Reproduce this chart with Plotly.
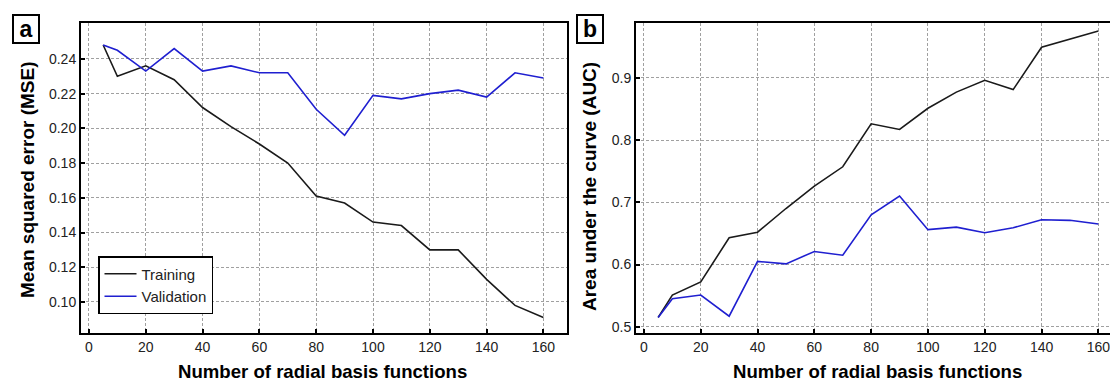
import plotly.graph_objects as go

n_rbf = [5, 10, 20, 30, 40, 50, 60, 70, 80, 90, 100, 110, 120, 130, 140, 150, 160]
mse_train = [0.248, 0.230, 0.236, 0.228, 0.212, 0.201, 0.191, 0.180, 0.161, 0.157, 0.146, 0.144, 0.130, 0.130, 0.113, 0.098, 0.091]
mse_valid = [0.248, 0.245, 0.233, 0.246, 0.233, 0.236, 0.232, 0.232, 0.211, 0.196, 0.219, 0.217, 0.220, 0.222, 0.218, 0.232, 0.229]
auc_train = [0.515, 0.551, 0.572, 0.643, 0.652, 0.690, 0.726, 0.757, 0.826, 0.817, 0.851, 0.877, 0.896, 0.881, 0.949, 0.962, 0.975]
auc_valid = [0.515, 0.545, 0.551, 0.517, 0.605, 0.601, 0.621, 0.615, 0.680, 0.710, 0.656, 0.660, 0.651, 0.659, 0.672, 0.671, 0.665]

x_ticks = [0, 20, 40, 60, 80, 100, 120, 140, 160]
mse_ticks = [0.10, 0.12, 0.14, 0.16, 0.18, 0.20, 0.22, 0.24]
auc_ticks = [0.5, 0.6, 0.7, 0.8, 0.9]

W, H = 1110, 381
FONT = "Liberation Sans, Arial, sans-serif"
BLACK = "#1a1a1a"
BLUE = "#1f1fd0"

fig = go.Figure()
fig.add_trace(go.Scatter(x=n_rbf, y=mse_train, mode="lines", name="Training",
                         line=dict(color=BLACK, width=1.6), xaxis="x", yaxis="y"))
fig.add_trace(go.Scatter(x=n_rbf, y=mse_valid, mode="lines", name="Validation",
                         line=dict(color=BLUE, width=1.6), xaxis="x", yaxis="y"))
fig.add_trace(go.Scatter(x=n_rbf, y=auc_train, mode="lines", name="Training",
                         line=dict(color=BLACK, width=1.6), xaxis="x2", yaxis="y2", showlegend=False))
fig.add_trace(go.Scatter(x=n_rbf, y=auc_valid, mode="lines", name="Validation",
                         line=dict(color=BLUE, width=1.6), xaxis="x2", yaxis="y2", showlegend=False))

top, bottom = 23, 333
ph = bottom - top

axis_common = dict(showgrid=True, gridcolor="#a0a0a0", griddash="3px,2px", gridwidth=1,
                   showline=True, linecolor="black", linewidth=2,
                   ticks="inside", ticklen=4, tickwidth=2, tickcolor="black",
                   tickfont=dict(family=FONT, size=14, color="#222"), zeroline=False)

fig.update_layout(
    width=W, height=H,
    margin=dict(l=0, r=0, t=top, b=H - bottom),
    paper_bgcolor="white", plot_bgcolor="white",
    font=dict(family=FONT, color="#222"),
    xaxis=dict(domain=[81 / W, 567 / W], range=[-2.8, 168.3], tickvals=x_ticks,
               mirror=True, anchor="y", **axis_common),
    yaxis=dict(domain=[0, 1], range=[0.0821, 0.2607], tickvals=mse_ticks,
               tickformat=".2f", mirror=True, anchor="x", **axis_common),
    xaxis2=dict(domain=[636 / W, 1.0], range=[-2.8, 164.1], tickvals=x_ticks,
                mirror=True, anchor="y2", ticklabeloverflow="allow", **axis_common),
    yaxis2=dict(domain=[0, 1], range=[0.49, 0.988], tickvals=auc_ticks,
                tickformat=".1f", mirror=False, anchor="x2", **axis_common),
    showlegend=True,
    legend=dict(x=98 / W, y=(bottom - 256) / ph, xanchor="left", yanchor="top",
                bordercolor="black", borderwidth=1.5, bgcolor="white",
                font=dict(family=FONT, size=15, color="#222"),
                tracegroupgap=2, itemwidth=32),
)

def px_x(p):
    return p / W

def px_y(p):
    return (bottom - p) / ph

annos = [
    dict(text="<b>a</b>", x=px_x(25.5), y=px_y(29)),
    dict(text="<b>b</b>", x=px_x(590), y=px_y(29)),
]
for a in annos:
    fig.add_annotation(xref="paper", yref="paper", x=a["x"], y=a["y"], text=a["text"],
                       showarrow=False, font=dict(family=FONT, size=23, color="black"),
                       bordercolor="black", borderwidth=2, borderpad=1, bgcolor="white",
                       xanchor="center", yanchor="middle", width=22, height=24)

XT = 18.6
YT = 19
for cx in (322, 877):
    fig.add_annotation(xref="paper", yref="paper", x=px_x(cx), y=px_y(371),
                       text="<b>Number of radial basis functions</b>", showarrow=False,
                       font=dict(family=FONT, size=XT, color="black"),
                       xanchor="center", yanchor="middle", borderpad=0)
fig.add_annotation(xref="paper", yref="paper", x=px_x(27), y=px_y(180),
                   text="<b>Mean squared error (MSE)</b>", showarrow=False, textangle=-90,
                   font=dict(family=FONT, size=YT, color="black"),
                   xanchor="center", yanchor="middle")
fig.add_annotation(xref="paper", yref="paper", x=px_x(589), y=px_y(187),
                   text="<b>Area under the curve (AUC)</b>", showarrow=False, textangle=-90,
                   font=dict(family=FONT, size=YT, color="black"),
                   xanchor="center", yanchor="middle")

fig.write_html("out.html", config={"displayModeBar": False},
               post_script="document.body.style.margin='0';document.body.style.overflow='hidden';")
